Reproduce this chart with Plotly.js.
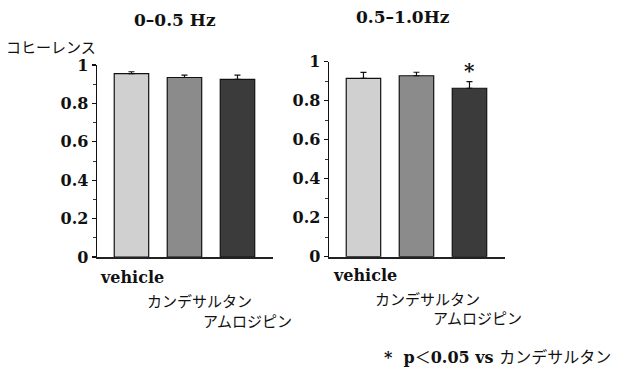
<!DOCTYPE html>
<html>
<head>
<meta charset="utf-8">
<script src="https://cdn.plot.ly/plotly-3.0.1.min.js"></script>
<style>
  html, body { margin: 0; padding: 0; background: #fff; }
  #chart { width: 622px; height: 370px; }
</style>
</head>
<body>
<div id="chart"></div>
<script>
// Coherence by treatment group, two frequency bands
const groups = ['vehicle', 'カンデサルタン', 'アムロジピン'];
const bandTitles = ['0\u20130.5 Hz', '0.5\u20131.0Hz'];
const lowBand = [0.955, 0.935, 0.925];
const lowBandErr = [0.010, 0.012, 0.022];
const highBand = [0.915, 0.928, 0.864];
const highBandErr = [0.030, 0.018, 0.034];
const significant = [false, false, true];
const yTicks = [0, 0.2, 0.4, 0.6, 0.8, 1];
const yTickText = ['0', '0.2', '0.4', '0.6', '0.8', '1'];
const yLabel = 'コヒーレンス';

const barColors = ['#d0d0d0', '#8b8b8b', '#3b3b3b'];
const serif = 'DejaVu Serif, Liberation Serif, serif';
const jp = 'Noto Sans CJK JP, sans-serif';
const idx = groups.map((_, i) => i);
const H = 370, W = 622;

// Footnote pieces: serif parts in bold, symbol and katakana in the CJK face
const jpSpan = t => '<span style="font-family:Noto Sans CJK JP;font-weight:normal">' + t + '</span>';
const footnoteText = '*\u00a0\u00a0p' + jpSpan('\uFF1C') + '0.05 vs ' + jpSpan('カンデサルタン');

function bars(vals, errs, xa, ya) {
  return {
    type: 'bar',
    x: idx,
    y: vals,
    xaxis: xa,
    yaxis: ya,
    width: 0.65,
    marker: { color: barColors, line: { color: '#111', width: 1.2 } },
    error_y: {
      type: 'data', symmetric: false, array: errs, arrayminus: errs.map(() => 0),
      color: '#111', thickness: 1.2, width: 3
    },
    hoverinfo: 'skip',
    showlegend: false
  };
}

const yCommon = {
  range: [0, 1.0],
  tickvals: yTicks,
  ticktext: yTickText,
  ticks: 'outside',
  ticklen: 4,
  tickwidth: 1.2,
  tickcolor: '#111',
  minor: { dtick: 0.1, ticks: 'outside', ticklen: 3, tickcolor: '#333', tickwidth: 1 },
  showline: true,
  linecolor: '#111',
  linewidth: 1.4,
  showgrid: false,
  zeroline: false,
  tickfont: { family: serif, size: 16, color: '#111', weight: 'bold' },
  fixedrange: true
};
const xCommon = {
  range: [-0.65, 2.67],
  showticklabels: false,
  ticks: '',
  showline: true,
  linecolor: '#222',
  linewidth: 2,
  showgrid: false,
  zeroline: false,
  fixedrange: true
};

// Staggered category labels under each panel (pixel rows and offsets)
const labelRows = [[277, 300, 320], [275, 298, 317]];
const labelShift = [[1, 15, 10], [2, 11, 8]];
const annotations = [];
['x', 'x2'].forEach((xa, p) => {
  groups.forEach((g, i) => {
    annotations.push({
      xref: xa, yref: 'paper', x: i, y: 1 - labelRows[p][i] / H,
      xshift: labelShift[p][i],
      text: g, showarrow: false, xanchor: 'center', yanchor: 'middle',
      font: i === 0 ? { family: serif, size: 16, color: '#111', weight: 'bold' }
                    : { family: jp, size: 15, color: '#111' }
    });
  });
});

// Significance marks above error bars
significant.forEach((s, i) => {
  if (!s) return;
  annotations.push({
    xref: 'x2', yref: 'y2', x: i, y: highBand[i] + highBandErr[i],
    yanchor: 'bottom', yshift: -3, text: '*', showarrow: false,
    font: { family: serif, size: 20, color: '#111', weight: 'bold' }
  });
});

// Panel titles
annotations.push({
  xref: 'paper', yref: 'paper', x: 175 / W, y: 1 - 20 / H, text: bandTitles[0],
  showarrow: false, xanchor: 'center', yanchor: 'middle',
  font: { family: serif, size: 17, color: '#111', weight: 'bold' }
});
annotations.push({
  xref: 'paper', yref: 'paper', x: 403 / W, y: 1 - 17 / H, text: bandTitles[1],
  showarrow: false, xanchor: 'center', yanchor: 'middle',
  font: { family: serif, size: 17, color: '#111', weight: 'bold' }
});
// Y axis label
annotations.push({
  xref: 'paper', yref: 'paper', x: 4 / W, y: 1 - 46 / H, text: yLabel,
  showarrow: false, xanchor: 'left', yanchor: 'middle',
  font: { family: jp, size: 15, color: '#111' }
});
// Footnote
annotations.push({
  xref: 'paper', yref: 'paper', x: 382 / W, y: 1 - 356 / H,
  text: footnoteText,
  showarrow: false, xanchor: 'left', yanchor: 'middle',
  font: { family: serif, size: 16, color: '#111', weight: 'bold' }
});

const layout = {
  width: W,
  height: H,
  margin: { l: 0, r: 0, t: 0, b: 0 },
  paper_bgcolor: '#fff',
  plot_bgcolor: '#fff',
  bargap: 0,
  xaxis: Object.assign({}, xCommon, { domain: [97 / W, 273 / W], anchor: 'y' }),
  yaxis: Object.assign({}, yCommon, { domain: [0.3054, 0.8243], anchor: 'x' }),
  xaxis2: Object.assign({}, xCommon, { domain: [329 / W, 505 / W], anchor: 'y2' }),
  yaxis2: Object.assign({}, yCommon, { domain: [0.3062, 0.8332], anchor: 'x2' }),
  annotations: annotations
};

Plotly.newPlot('chart', [bars(lowBand, lowBandErr, 'x', 'y'), bars(highBand, highBandErr, 'x2', 'y2')],
  layout, { staticPlot: true, displayModeBar: false });
</script>
</body>
</html>
